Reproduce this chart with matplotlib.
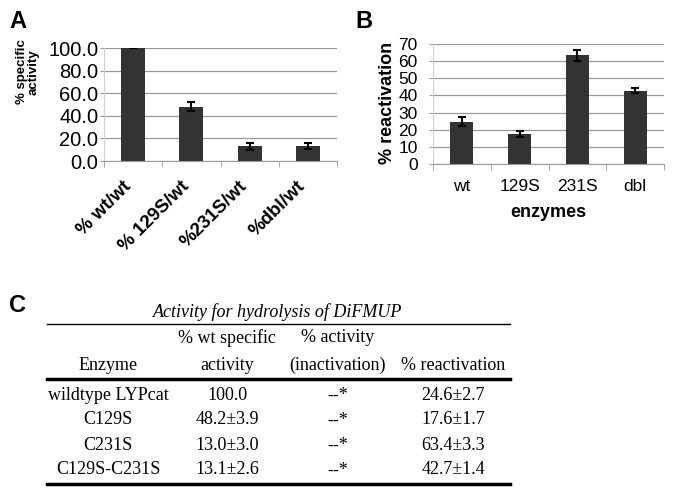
import matplotlib
matplotlib.use("Agg")
import matplotlib.pyplot as plt
import matplotlib.transforms as mtransforms
from matplotlib.lines import Line2D

# panel A data
a_labels = ["% wt/wt", "% 129S/wt", "%231S/wt", "%dbl/wt"]
a_values = [100.0, 48.2, 13.0, 13.1]
a_errors = [0.0, 3.9, 3.0, 2.6]

# panel B data
b_labels = ["wt", "129S", "231S", "dbl"]
b_values = [24.6, 17.6, 63.4, 42.7]
b_errors = [2.7, 1.7, 3.3, 1.4]

# panel C table
c_title = "Activity for hydrolysis of DiFMUP"
c_header = [["", "% wt specific", "% activity", ""],
            ["Enzyme", "activity", "(inactivation)", "% reactivation"]]
c_enzymes = ["wildtype LYPcat", "C129S", "C231S", "C129S-C231S"]
c_specific = ["100.0", "48.2\u00b13.9", "13.0\u00b13.0", "13.1\u00b12.6"]
c_inact = ["--*", "--*", "--*", "--*"]
c_react = ["24.6\u00b12.7", "17.6\u00b11.7", "63.4\u00b13.3", "42.7\u00b11.4"]

plt.rcParams['font.family'] = ['Liberation Sans', 'DejaVu Sans']
bar_color = "#333333"
grid_color = "#9a9a9a"

W, H = 690, 500
fig = plt.figure(figsize=(W / 100, H / 100), dpi=100)


def fx(px):
    return px / W


def fy(py):
    return 1 - py / H


def style_axes(ax):
    for s in ["top", "right"]:
        ax.spines[s].set_visible(False)
    ax.spines["bottom"].set_color(grid_color)
    ax.spines["left"].set_color("#d0d0d0")
    ax.yaxis.grid(True, color=grid_color, linewidth=0.9)
    ax.set_axisbelow(True)
    ax.tick_params(axis="y", length=3, color=grid_color)
    ax.tick_params(axis="x", which="major", length=0)
    ax.tick_params(axis="x", which="minor", length=4, color=grid_color)
    ax.set_xlim(-0.5, 3.5)
    ax.set_xticks([-0.5, 0.5, 1.5, 2.5, 3.5], minor=True)


# panel A
axA = fig.add_axes([fx(104), fy(161), fx(337 - 104), (161 - 48) / H])
xs = range(len(a_values))
axA.bar(xs, a_values, width=0.41, color=bar_color, zorder=2)
axA.errorbar(xs, a_values, yerr=a_errors, fmt="none", ecolor="black",
             elinewidth=1.5, capsize=3, capthick=1.5, zorder=3)
style_axes(axA)
axA.set_ylim(0, 100)
axA.set_yticks([0, 20, 40, 60, 80, 100])
axA.set_yticklabels([f"{v:.1f}" for v in [0, 20, 40, 60, 80, 100]])
axA.tick_params(axis="y", labelsize=14.5, pad=1)
axA.set_xticks(list(xs))
axA.set_xticklabels(a_labels, rotation=45, ha="right", rotation_mode="anchor",
                    fontsize=13.5, fontweight="bold")
axA.tick_params(axis="x", which="major", pad=10)
shift = mtransforms.ScaledTranslation(-11 / 100, -3 / 100, fig.dpi_scale_trans)
for lab in axA.get_xticklabels():
    lab.set_transform(lab.get_transform() + shift)
fig.text(fx(28), fy(72), "% specific\nactivity", rotation=90, ha="center",
         va="center", fontsize=9.5, fontweight="bold", linespacing=0.95)
fig.text(fx(9), fy(22), "A", fontsize=17, fontweight="bold", va="center")

# panel B
axB = fig.add_axes([fx(433), fy(164), fx(664 - 433), (164 - 44) / H])
axB.bar(xs, b_values, width=0.4, color=bar_color, zorder=2)
axB.errorbar(xs, b_values, yerr=b_errors, fmt="none", ecolor="black",
             elinewidth=1.5, capsize=3, capthick=1.5, zorder=3)
style_axes(axB)
axB.set_ylim(0, 70)
axB.set_yticks(range(0, 71, 10))
axB.tick_params(axis="y", labelsize=12.5, pad=8)
axB.set_xticks(list(xs))
axB.set_xticklabels(b_labels, fontsize=12.5)
axB.tick_params(axis="x", which="major", pad=11)
axB.set_xlabel("enzymes", fontsize=13, fontweight="bold", labelpad=7)
fig.text(fx(387), fy(103), "% reactivation", rotation=90, ha="center",
         va="center", fontsize=13, fontweight="bold")
fig.text(fx(355), fy(21), "B", fontsize=17, fontweight="bold", va="center")

# panel C table
fig.text(fx(9), fy(305), "C", fontsize=17, fontweight="bold", va="center")
serif = ["Liberation Serif", "DejaVu Serif"]
tsize = 13
fig.text(fx(278), fy(312), c_title, fontsize=tsize, family=serif,
         style="italic", ha="center", va="center")
fig.add_artist(Line2D([fx(47), fx(510)], [fy(324), fy(324)], color="black",
                      linewidth=1.0))
col_x = [108, 227, 338, 453]
for row, py in zip(c_header, [338, 365]):
    for txt, px in zip(row, col_x):
        if txt:
            fig.text(fx(px), fy(py), txt, fontsize=tsize, family=serif,
                     ha="center", va="center")
fig.add_artist(Line2D([fx(47), fx(510)], [fy(379), fy(379)], color="black",
                      linewidth=2.5))
row_y = [395, 420, 445, 470]
for i, py in enumerate(row_y):
    cells = [c_enzymes[i], c_specific[i], c_inact[i], c_react[i]]
    for txt, px in zip(cells, col_x):
        fig.text(fx(px), fy(py), txt, fontsize=tsize, family=serif,
                 ha="center", va="center")
fig.add_artist(Line2D([fx(47), fx(510)], [fy(484), fy(484)], color="black",
                      linewidth=2.5))

fig.savefig("out.png", dpi=100)
